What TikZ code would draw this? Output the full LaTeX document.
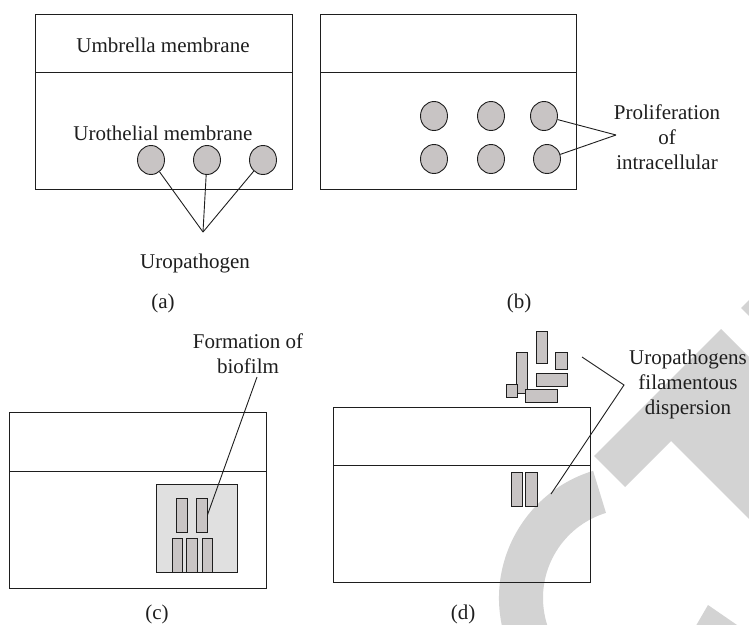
\documentclass[tikz,border=0pt]{standalone}
\usepackage{fontspec}
\setmainfont{Liberation Serif}
\usetikzlibrary{shapes.geometric}
\definecolor{cellgray}{RGB}{200,196,196}
\definecolor{filmgray}{RGB}{224,224,224}
\definecolor{wmgray}{RGB}{211,211,211}
\definecolor{ink}{RGB}{30,30,30}
\tikzset{
  lbl/.style={font=\fontsize{21}{25}\selectfont, inner sep=0pt, align=center, text=ink},
  membox/.style={draw=ink, line width=0.9pt},
  cell/.style={ellipse, draw=ink, line width=0.9pt, fill=cellgray, minimum width=27pt, minimum height=29pt, inner sep=0pt},
  bact/.style={rectangle, draw=ink, line width=0.9pt, fill=cellgray, inner sep=0pt},
  film/.style={rectangle, draw=ink, line width=0.9pt, fill=filmgray, inner sep=0pt},
  link/.style={draw=ink, line width=0.9pt},
  wm/.style={fill=wmgray, draw=none}
}
\begin{document}
\begin{tikzpicture}[x=1pt,y=-1pt]
\useasboundingbox (0,0) rectangle (749,624);
% watermark
\begin{scope}
\clip (0,0) rectangle (749,624);
\fill[wm] (721,329) -- (760,368) -- (760,530) -- (671,441) -- (625,487) -- (594,456) -- cycle;
\fill[wm] (741,308) -- (760,289) -- (760,327) -- cycle;
\fill[wm] (708,605) -- (690,636) -- (753,636) -- cycle;
\fill[wm] ([shift={(107:133pt)}]632,598) arc[start angle=107,end angle=235,radius=133pt]
  -- ([shift={(235:89pt)}]632,598) arc[start angle=235,end angle=107,radius=89pt] -- cycle;
\end{scope}

% ---- (a)
\draw[membox] (35,14) rectangle (292,189);
\draw[membox] (35,72) -- (292,72);
\node[lbl] (umb) at (163,45) {Umbrella membrane};
\node[lbl] (uro) at (163,133) {Urothelial membrane};
\node[cell] (a1) at (151,160) {};
\node[cell] (a2) at (207,160) {};
\node[cell] (a3) at (263,160) {};
\coordinate (apA) at (203,232);
\draw[link] (a1) -- (apA);
\draw[link] (a2) -- (apA);
\draw[link] (a3) -- (apA);
\node[lbl] (upath) at (195,263) {Uropathogen};
\node[lbl] (capa) at (163,303) {(a)};

% ---- (b)
\draw[membox] (320,14) rectangle (576,189);
\draw[membox] (320,72) -- (576,72);
\node[cell] (b1) at (434,116) {};
\node[cell] (b2) at (491,116) {};
\node[cell] (b3) at (544,116) {};
\node[cell] (b4) at (434,159) {};
\node[cell] (b5) at (491,159) {};
\node[cell] (b6) at (547,159) {};
\coordinate (apB) at (616,135);
\draw[link] (b3) -- (apB);
\draw[link] (b6) -- (apB);
\node[lbl] (prolif) at (667,137) {Proliferation\\of\\intracellular};
\node[lbl] (capb) at (519,303) {(b)};

% ---- (c)
\draw[membox] (9,412) rectangle (266,588);
\draw[membox] (9,471) -- (266,471);
\node[film, minimum width=81pt, minimum height=88pt] (bio) at (196.5,528) {};
\node[bact, minimum width=11pt, minimum height=34pt] (c1) at (181.5,515) {};
\node[bact, minimum width=11pt, minimum height=34pt] (c2) at (201.5,515) {};
\node[bact, minimum width=10pt, minimum height=34pt] (c3) at (177,555) {};
\node[bact, minimum width=11pt, minimum height=34pt] (c4) at (191.5,555) {};
\node[bact, minimum width=10pt, minimum height=34pt] (c5) at (207,555) {};
\coordinate (endC) at (257,377);
\draw[link] (c2.east) -- (endC);
\node[lbl] (form) at (248,354) {Formation of\\biofilm};
\node[lbl] (capc) at (157,614) {(c)};

% ---- (d)
\draw[membox] (333,407) rectangle (590,582);
\draw[membox] (333,465) -- (590,465);
\node[bact, minimum width=11pt, minimum height=34pt] (d1) at (516.5,489) {};
\node[bact, minimum width=12pt, minimum height=34pt] (d2) at (531,489) {};
\node[bact, minimum width=11pt, minimum height=41pt] (f1) at (521.5,372.5) {};
\node[bact, minimum width=11pt, minimum height=32pt] (f2) at (541.5,347) {};
\node[bact, minimum width=12pt, minimum height=17pt] (f3) at (561,360.5) {};
\node[bact, minimum width=31pt, minimum height=13pt] (f4) at (551.5,379.5) {};
\node[bact, minimum width=11pt, minimum height=13pt] (f5) at (511.5,390.5) {};
\node[bact, minimum width=32pt, minimum height=13pt] (f6) at (541,395.5) {};
\coordinate (apD) at (624,385);
\coordinate (topD) at (582,357);
\coordinate (lowD) at (551,494);
\draw[link] (topD) -- (apD) -- (lowD);
\node[lbl] (filam) at (688,384) {Uropathogens\\filamentous\\dispersion};
\node[lbl] (capd) at (463,614) {(d)};
\end{tikzpicture}
\end{document}
